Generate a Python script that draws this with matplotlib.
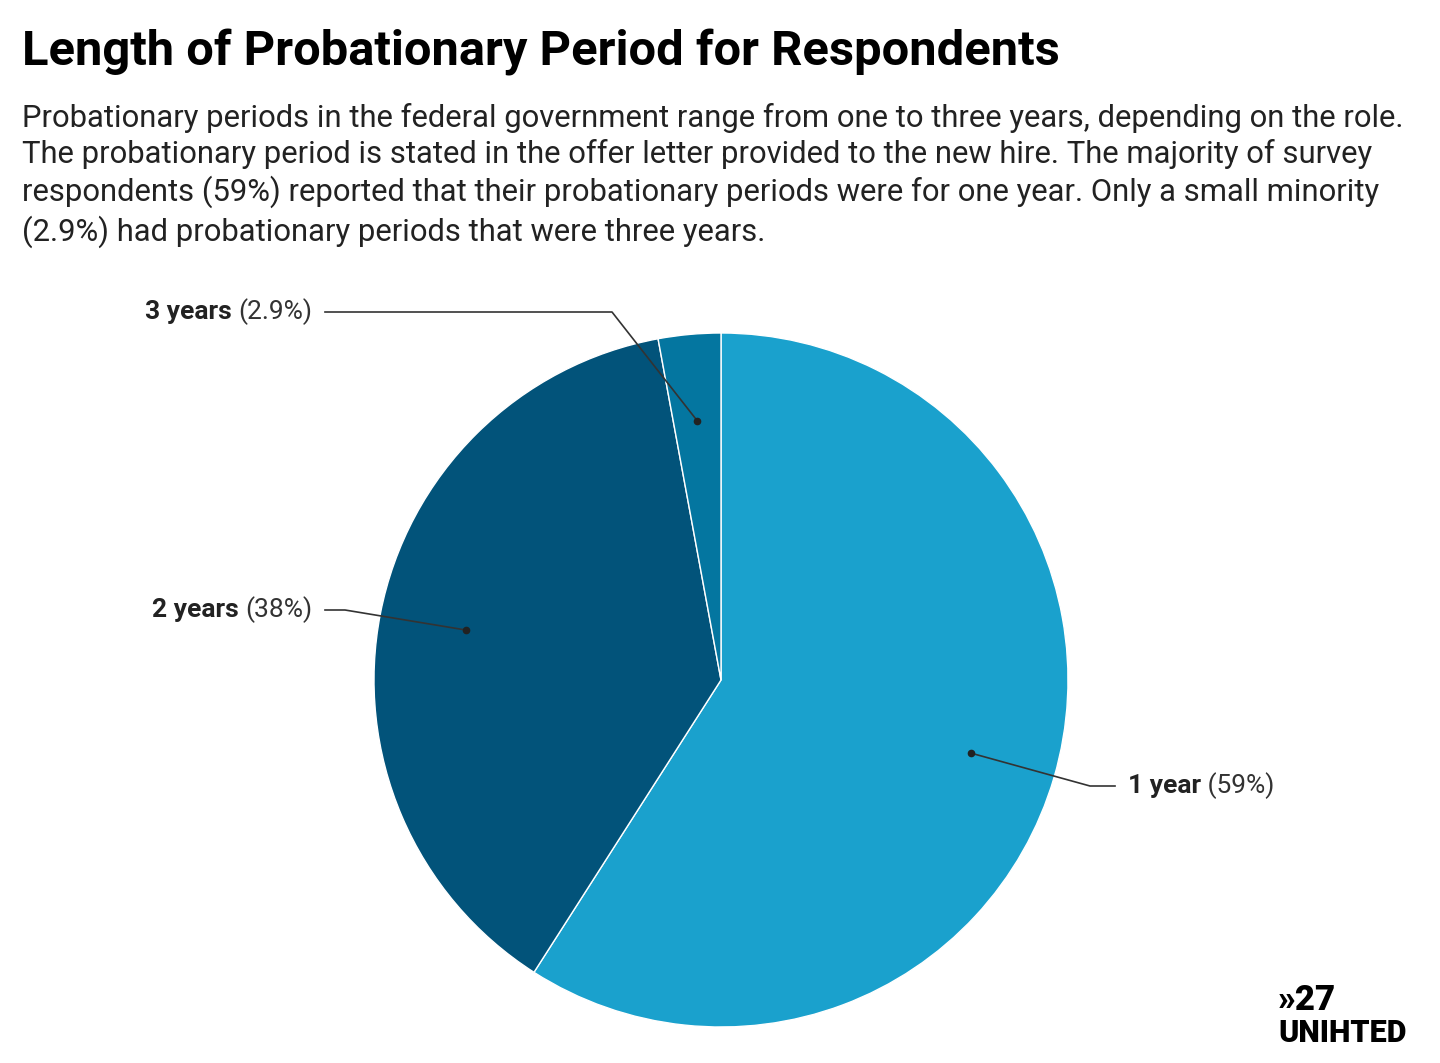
import matplotlib
matplotlib.use("Agg")
import matplotlib.pyplot as plt
import numpy as np

labels = ["1 year", "2 years", "3 years"]
values = [59, 38, 2.9]
pct_labels = ["(59%)", "(38%)", "(2.9%)"]
colors = ["#1aa1cd", "#02537a", "#0476a0"]

plt.rcParams['font.family'] = ['Roboto', 'DejaVu Sans']
W, H = 1440, 1063
fig = plt.figure(figsize=(14.4, 10.63), dpi=100)
ax = fig.add_axes([0, 0, 1, 1])
cx, cy, R = 721, H - 680, 347
wedges, _ = ax.pie(values, colors=colors, startangle=90, counterclock=False,
                   center=(cx, cy), radius=R, frame=True,
                   wedgeprops=dict(edgecolor="white", linewidth=1))
ax.set_xlim(0, W); ax.set_ylim(0, H)
ax.set_aspect('equal'); ax.axis('off')

fig.text(22/W, 1 - 52/H, "Length of Probationary Period for Respondents",
         fontsize=35.2, fontweight='bold', va='center', ha='left')
sub = ("Probationary periods in the federal government range from one to three years, depending on the role.\n"
       "The probationary period is stated in the offer letter provided to the new hire. The majority of survey\n"
       "respondents (59%) reported that their probationary periods were for one year. Only a small minority\n"
       "(2.9%) had probationary periods that were three years.")
fig.text(22/W, 1 - 103/H, sub, fontsize=22.3, va='top', ha='left',
         color='#222222', linespacing=1.26)

layout = [((1090, 786), (1115, 786), 'left'),
          ((345, 610), (325, 610), 'right'),
          ((612, 312), (325, 312), 'right')]
fs = 19
for w, lab, pl, (el, le, side) in zip(wedges, labels, pct_labels, layout):
    ang = np.deg2rad((w.theta1 + w.theta2) / 2)
    dx, dy = cx + 0.75 * R * np.cos(ang), cy + 0.75 * R * np.sin(ang)
    ex, ey = el[0], H - el[1]
    lx, ly = le[0], H - le[1]
    ax.plot([dx, ex, lx], [dy, ey, ly], color='#333333', lw=1.2)
    ax.plot([dx], [dy], 'o', color='#222222', ms=4.5)
    if side == 'left':
        t = ax.text(lx + 13, ly, lab, fontsize=fs, fontweight='bold', va='center', ha='left', color='#222222')
        ax.annotate(" " + pl, xycoords=t, xy=(1, 0.5), va='center', ha='left', fontsize=fs, color='#333333')
    else:
        t = ax.text(lx - 13, ly, pl, fontsize=fs, va='center', ha='right', color='#333333')
        ax.annotate(lab + " ", xycoords=t, xy=(0, 0.5), va='center', ha='right', fontsize=fs,
                    fontweight='bold', color='#222222')

fig.text(1278/W, 1 - 1000/H, "»27", fontsize=25, fontweight='black', va='center', ha='left')
fig.text(1278/W, 1 - 1033/H, "UNIHTED", fontsize=22, fontweight='black', va='center', ha='left')

fig.savefig("out.png", dpi=100)
